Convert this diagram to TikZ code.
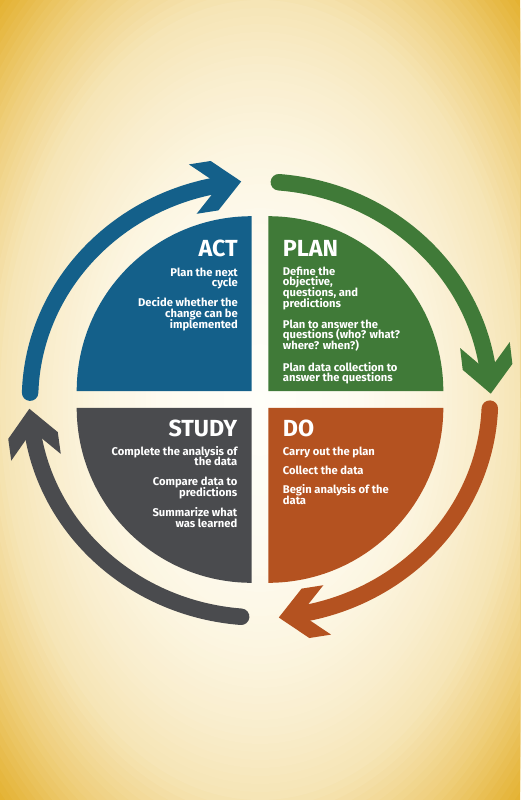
\documentclass[tikz,border=0pt]{standalone}
\usepackage{fontspec}
\setmainfont{Fira Sans}
\definecolor{actc}{HTML}{14608A}
\definecolor{planc}{HTML}{407A38}
\definecolor{doc}{HTML}{B45220}
\definecolor{studyc}{HTML}{4A4B4E}
\definecolor{g0}{RGB}{255,255,250}
\definecolor{g20}{RGB}{254,251,240}
\definecolor{g32}{RGB}{252,245,224}
\definecolor{g42}{RGB}{249,237,204}
\definecolor{g50}{RGB}{246,229,182}
\definecolor{g60}{RGB}{239,207,125}
\definecolor{g71}{RGB}{228,178,50}
% background band: #1 outer r, #2 inner r, #3 outer colour, #4 inner colour
\newcommand\bgseg[4]{%
  \foreach \rr in {#1,...,#2} {%
    \pgfmathtruncatemacro\pp{round((\rr-#2)/(#1-#2)*100)}%
    \pgfmathsetlengthmacro\xr{5.2*\rr}%
    \pgfmathsetlengthmacro\yr{8*\rr}%
    \fill[#3!\pp!#4] (260,-400) ellipse[x radius=\xr, y radius=\yr];
  }%
}
\newcommand\pdsaarrow[3]{%
  \draw[#1, line width=16.5pt, line cap=round] (#2:230pt and 218pt) arc[start angle=#2, end angle=#3, x radius=230pt, y radius=218pt];
  \pgfmathsetmacro\dirang{atan2(-218*cos(#3), 230*sin(#3))}
  \fill[#1, shift={(#3:230pt and 218pt)}, rotate=\dirang] (19pt,0pt) -- (-8pt,25pt) -- (-30pt,25pt) -- (-3pt,0pt) -- (-30pt,-25pt) -- (-8pt,-25pt) -- cycle;
}
\tikzset{
  title/.style={text=white, inner sep=0pt, font=\fontsize{23.3}{24}\selectfont\bfseries},
  body/.style={text=white, inner sep=0pt, font=\fontsize{11.2}{10.8}\selectfont\bfseries},
}
\begin{document}
\begin{tikzpicture}[x=1pt, y=1pt]
\lineskiplimit=-20pt
\useasboundingbox (0,0) rectangle (520,-800);
\fill[g71] (0,0) rectangle (520,-800);
\begin{scope}
\clip (0,0) rectangle (520,-800);
\bgseg{71}{60}{g71}{g60}
\bgseg{60}{50}{g60}{g50}
\bgseg{50}{42}{g50}{g42}
\bgseg{42}{32}{g42}{g32}
\bgseg{32}{20}{g32}{g20}
\bgseg{20}{0}{g20}{g0}
\end{scope}
% quadrants
\fill[actc] (251.7,-391.2) -- ++(0,175) arc[start angle=90, end angle=180, radius=175pt] -- cycle;
\fill[planc] (268.3,-391.2) -- ++(0,175) arc[start angle=90, end angle=0, radius=175pt] -- cycle;
\fill[doc] (268.3,-407.8) -- ++(0,-175) arc[start angle=-90, end angle=0, radius=175pt] -- cycle;
\fill[studyc] (251.7,-407.8) -- ++(0,-175) arc[start angle=-90, end angle=-180, radius=175pt] -- cycle;
% ring arrows
\begin{scope}[shift={(260,-399.5)}]
\pdsaarrow{actc}{178.2}{99.4}
\pdsaarrow{planc}{85.3}{6.5}
\pdsaarrow{doc}{-2.4}{-80.6}
\pdsaarrow{studyc}{-94.7}{-172.6}
\end{scope}
% ACT (anchors at baseline of last line)
\node[title, anchor=base east] (actt) at (238,-256.5) {ACT};
\node[body, anchor=base east, align=right] (act1) at (238,-286.8) {Plan the next\\cycle};
\node[body, anchor=base east, align=right] (act2) at (238,-328.3) {Decide whether the\\change can be\\implemented};
% PLAN
\node[title, anchor=base west] (plant) at (282.7,-256) {PLAN};
\node[body, anchor=base west, align=left] (plan1) at (282.7,-307.4) {Define the\\objective,\\questions, and\\predictions};
\node[body, anchor=base west, align=left] (plan2) at (282.7,-349.6) {Plan to answer the\\questions (who? what?\\where? when?)};
\node[body, anchor=base west, align=left] (plan3) at (282.7,-381.8) {Plan data collection to\\answer the questions};
% STUDY
\node[title, anchor=base east] (studyt) at (237.5,-436) {STUDY};
\node[body, anchor=base east, align=right] (study1) at (237.5,-465.8) {Complete the analysis of\\the data};
\node[body, anchor=base east, align=right] (study2) at (237.5,-496.5) {Compare data to\\predictions};
\node[body, anchor=base east, align=right] (study3) at (237.5,-527.5) {Summarize what\\was learned};
% DO
\node[title, anchor=base west] (dot) at (282.7,-436) {DO};
\node[body, anchor=base west, align=left] (do1) at (282.7,-455) {Carry out the plan};
\node[body, anchor=base west, align=left] (do2) at (282.7,-474) {Collect the data};
\node[body, anchor=base west, align=left] (do3) at (282.7,-504.1) {Begin analysis of the\\data};
\end{tikzpicture}
\end{document}
